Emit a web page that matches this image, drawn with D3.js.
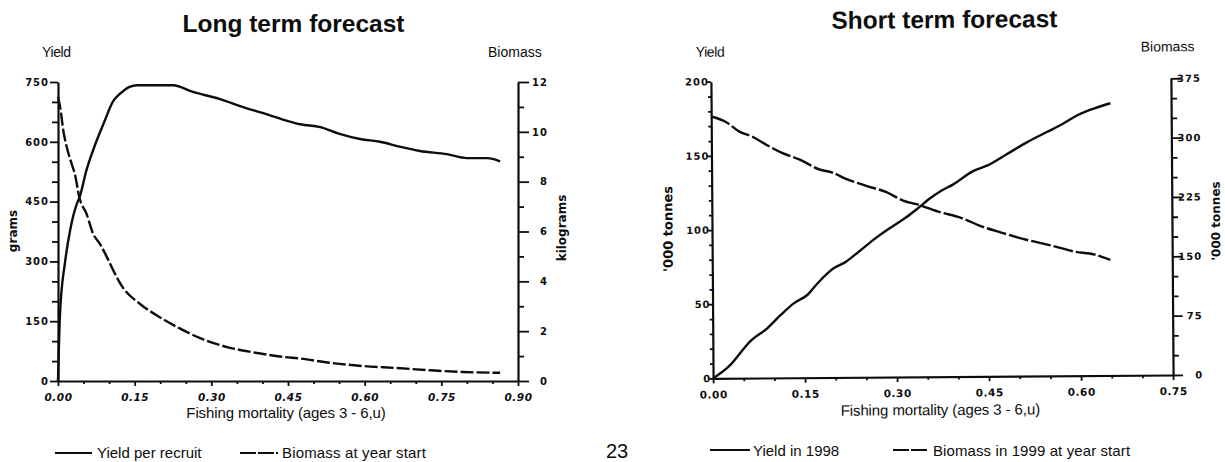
<!DOCTYPE html>
<html>
<head>
<meta charset="utf-8">
<script src="https://cdn.jsdelivr.net/npm/d3@7"></script>
<style>
  html, body { margin: 0; padding: 0; background: #fff; }
  svg { display: block; }
</style>
</head>
<body>
<svg id="chart" width="1225" height="462"></svg>
<script>
// ---- Long term forecast: yield per recruit and biomass vs fishing mortality ----
const longYieldF   = [0, 0.004, 0.014, 0.024, 0.037, 0.042, 0.056, 0.069, 0.089, 0.108, 0.121, 0.14, 0.155, 0.19, 0.225, 0.264, 0.317, 0.362, 0.409, 0.45, 0.474, 0.513, 0.551, 0.591, 0.63, 0.668, 0.708, 0.761, 0.80, 0.84, 0.865];
const longYield    = [0, 170, 300, 380, 445, 460, 530, 580, 645, 702, 720, 738, 742, 742, 742, 725, 707, 687, 669, 652, 644, 637, 620, 607, 600, 588, 577, 569, 559, 559, 551];
const longBiomassF = [0, 0.005, 0.010, 0.017, 0.027, 0.033, 0.042, 0.056, 0.069, 0.082, 0.095, 0.108, 0.118, 0.127, 0.160, 0.200, 0.239, 0.278, 0.331, 0.382, 0.44, 0.474, 0.532, 0.597, 0.663, 0.728, 0.793, 0.865];
const longBiomass  = [11.4, 10.9, 10.1, 9.4, 8.7, 8.3, 7.35, 6.7, 5.9, 5.5, 5.0, 4.45, 4.05, 3.75, 3.1, 2.55, 2.1, 1.72, 1.36, 1.15, 0.97, 0.9, 0.73, 0.6, 0.52, 0.43, 0.36, 0.33];

const longYieldTicks   = [0, 150, 300, 450, 600, 750];
const longBiomassTicks = [0, 2, 4, 6, 8, 10, 12];
const longFTicks       = [0, 0.15, 0.30, 0.45, 0.60, 0.75, 0.90];

// ---- Short term forecast: yield in 1998 and biomass in 1999 ----
const shortYieldF   = [0, 0.0245, 0.0626, 0.089, 0.111, 0.133, 0.155, 0.172, 0.199, 0.215, 0.237, 0.264, 0.291, 0.318, 0.334, 0.356, 0.373, 0.394, 0.427, 0.449, 0.482, 0.515, 0.547, 0.569, 0.597, 0.624, 0.651];
const shortYield    = [0, 7.5, 25.5, 33.5, 42.4, 50.3, 55.9, 63.8, 73.9, 77.2, 84, 92.9, 100.7, 108, 113, 120.3, 125, 129.6, 138.6, 142, 149.8, 157.7, 164.4, 168.9, 175.6, 180, 183.5];
const shortBiomassF = [0, 0.024, 0.045, 0.067, 0.089, 0.116, 0.143, 0.176, 0.197, 0.219, 0.252, 0.284, 0.312, 0.339, 0.372, 0.405, 0.438, 0.470, 0.514, 0.552, 0.590, 0.623, 0.649];
const shortBiomass  = [331, 324, 312, 305, 295, 284, 276, 263, 259, 251, 242, 234, 223, 217, 208, 201, 190, 182, 172, 165, 157, 153, 146];

const shortYieldTicks   = [0, 50, 100, 150, 200];
const shortBiomassTicks = [0, 75, 150, 225, 300, 375];
const shortFTicks       = [0, 0.15, 0.30, 0.45, 0.60, 0.75];

const INK = "#0d0d0d";
const SANS = "'Liberation Sans', Arial, sans-serif";
const TICKFONT = "'DejaVu Sans', sans-serif";

const svg = d3.select("#chart");

// values between majors, stepping by `step`
function minorValues(max, step, majors) {
  const out = [];
  for (let v = 0; v <= max + 1e-9; v += step) {
    const r = Math.round(v * 1000) / 1000;
    if (!majors.some(m => Math.abs(m - r) < 1e-6)) out.push(r);
  }
  return out;
}

function styleAxis(g, showDomain) {
  g.attr("font-family", null).attr("font-size", null);
  g.select(".domain").attr("stroke", showDomain ? INK : "none").attr("stroke-width", 2.2);
  g.selectAll(".tick line").attr("stroke", INK).attr("stroke-width", 1.8);
  g.selectAll(".tick text")
    .attr("fill", INK)
    .style("font-family", TICKFONT)
    .style("font-weight", "bold")
    .style("font-size", "10px");
}

function addText(parent, x, y, str, opts = {}) {
  return parent.append("text")
    .attr("x", x).attr("y", y)
    .attr("text-anchor", opts.anchor || "start")
    .attr("fill", INK)
    .style("font-family", opts.family || SANS)
    .style("font-size", (opts.size || 14) + "px")
    .style("font-weight", opts.weight || "normal")
    .style("letter-spacing", (opts.spacing || 0) + "px")
    .text(str);
}

function addRotated(parent, cx, cy, str, size) {
  return parent.append("text")
    .attr("transform", `translate(${cx},${cy}) rotate(-90)`)
    .attr("text-anchor", "middle")
    .attr("dominant-baseline", "central")
    .attr("fill", INK)
    .style("font-family", TICKFONT)
    .style("font-weight", "bold")
    .style("font-size", size + "px")
    .text(str);
}

function curve(parent, xs, fs, vs, ys, dash) {
  const line = d3.line().x(d => xs(d[0])).y(d => ys(d[1])).curve(d3.curveMonotoneX);
  parent.append("path")
    .datum(fs.map((f, i) => [f, vs[i]]))
    .attr("d", line)
    .attr("fill", "none")
    .attr("stroke", INK)
    .attr("stroke-width", 2.4)
    .attr("stroke-linejoin", "round")
    .attr("stroke-dasharray", dash || null);
}

// ================= Long term panel =================
{
  const g = svg.append("g");
  const x  = d3.scaleLinear().domain([0, 0.9]).range([58, 518]);
  const yY = d3.scaleLinear().domain([0, 750]).range([381, 82]);
  const yB = d3.scaleLinear().domain([0, 12]).range([381, 82]);

  // minor ticks
  g.append("g").attr("transform", "translate(58,0)")
    .call(d3.axisLeft(yY).tickValues(minorValues(750, 50, longYieldTicks)).tickSize(6).tickFormat(""))
    .call(a => styleAxis(a, false));
  g.append("g").attr("transform", "translate(518,0)")
    .call(d3.axisRight(yB).tickValues(minorValues(12, 1, longBiomassTicks)).tickSize(6).tickFormat(""))
    .call(a => styleAxis(a, false));
  g.append("g").attr("transform", "translate(0,381)")
    .call(d3.axisBottom(x).tickValues(minorValues(0.9, 0.05, longFTicks)).tickSize(3).tickFormat(""))
    .call(a => styleAxis(a, false));

  // major axes
  g.append("g").attr("transform", "translate(58,0)")
    .call(d3.axisLeft(yY).tickValues(longYieldTicks).tickSize(8).tickSizeOuter(0).tickPadding(1).tickFormat(d3.format("d")))
    .call(a => styleAxis(a, true))
    .call(a => a.selectAll(".tick text").style("letter-spacing", "1px"));
  g.append("g").attr("transform", "translate(518,0)")
    .call(d3.axisRight(yB).tickValues(longBiomassTicks).tickSize(11).tickSizeOuter(0).tickFormat(d3.format("d")))
    .call(a => styleAxis(a, true))
    .call(a => a.selectAll(".tick text").attr("text-anchor", "end").attr("x", 30).style("letter-spacing", "1px"));
  g.append("g").attr("transform", "translate(0,381)")
    .call(d3.axisBottom(x).tickValues(longFTicks).tickSize(5).tickSizeOuter(0).tickFormat(d3.format(".2f")))
    .call(a => styleAxis(a, true))
    .call(a => a.selectAll(".tick text").attr("y", 20).attr("dy", null)
      .style("font-style", "italic").style("font-size", "10.5px").style("letter-spacing", "0.5px"));

  curve(g, x, longYieldF, longYield, yY, null);
  curve(g, x, longBiomassF, longBiomass, yB, "13,3");

  addText(g, 293.5, 32, "Long term forecast", { anchor: "middle", size: 24.5, weight: "bold" });
  addText(g, 42, 57, "Yield", { size: 14, spacing: -0.4 });
  addText(g, 488, 57, "Biomass", { size: 14, spacing: 0 });
  addText(g, 286, 418, "Fishing mortality (ages 3 - 6,u)", { anchor: "middle", size: 15, spacing: -0.1 });
  addRotated(g, 12.5, 231, "grams", 12);
  addRotated(g, 562, 228, "kilograms", 12);
}

// ================= Short term panel =================
{
  const g = svg.append("g").attr("transform", "rotate(-0.42,942,228)");
  const x  = d3.scaleLinear().domain([0, 0.75]).range([712, 1172]);
  const yY = d3.scaleLinear().domain([0, 200]).range([376.7, 80]);
  const yB = d3.scaleLinear().domain([0, 375]).range([376.7, 80]);

  g.append("g").attr("transform", "translate(712,0)")
    .call(d3.axisLeft(yY).tickValues(minorValues(200, 10, shortYieldTicks)).tickSize(3).tickFormat(""))
    .call(a => styleAxis(a, false));
  g.append("g").attr("transform", "translate(1172,0)")
    .call(d3.axisRight(yB).tickValues(minorValues(375, 25, shortBiomassTicks)).tickSize(6).tickFormat(""))
    .call(a => styleAxis(a, false));
  g.append("g").attr("transform", "translate(0,376.7)")
    .call(d3.axisBottom(x).tickValues(minorValues(0.75, 0.05, shortFTicks)).tickSize(3).tickFormat(""))
    .call(a => styleAxis(a, false));

  g.append("g").attr("transform", "translate(712,0)")
    .call(d3.axisLeft(yY).tickValues(shortYieldTicks).tickSize(4).tickSizeOuter(0).tickFormat(d3.format("d")))
    .call(a => styleAxis(a, true))
    .call(a => a.selectAll(".tick text").attr("x", -2).style("letter-spacing", "1px"));
  g.append("g").attr("transform", "translate(1172,0)")
    .call(d3.axisRight(yB).tickValues(shortBiomassTicks).tickSize(10).tickSizeOuter(0).tickFormat(d3.format("d")))
    .call(a => styleAxis(a, true))
    .call(a => a.selectAll(".tick text").attr("text-anchor", "end").attr("x", 30).style("letter-spacing", "1px"));
  g.append("g").attr("transform", "translate(0,376.7)")
    .call(d3.axisBottom(x).tickValues(shortFTicks).tickSize(5).tickSizeOuter(0).tickFormat(d3.format(".2f")))
    .call(a => styleAxis(a, true))
    .call(a => a.selectAll(".tick text").attr("y", 20).attr("dy", null)
      .style("font-size", "10.5px").style("letter-spacing", "0.5px"));

  curve(g, x, shortYieldF, shortYield, yY, null);
  curve(g, x, shortBiomassF, shortBiomass, yB, "20,3");

  addText(g, 946, 28, "Short term forecast", { anchor: "middle", size: 24.5, weight: "bold" });
  addText(g, 697, 55, "Yield", { size: 14, spacing: -0.4 });
  addText(g, 1142, 53, "Biomass", { size: 14, spacing: 0 });
  addText(g, 939, 415, "Fishing mortality (ages 3 - 6,u)", { anchor: "middle", size: 15, spacing: -0.1 });
  addRotated(g, 668, 227, "'000 tonnes", 13);
  addRotated(g, 1216, 223, "'000 tonnes", 12);
}

// ================= Legends and page number =================
function legendLine(x1, x2, y, dash) {
  svg.append("line")
    .attr("x1", x1).attr("x2", x2).attr("y1", y).attr("y2", y)
    .attr("stroke", INK).attr("stroke-width", 2)
    .attr("stroke-dasharray", dash || null);
}
legendLine(55, 92, 453, null);
addText(svg, 97, 458, "Yield per recruit", { size: 15 });
legendLine(240, 278, 453, "16,2");
addText(svg, 282, 458, "Biomass at year start", { size: 15, spacing: 0.15 });

legendLine(710, 750, 450, null);
addText(svg, 753, 456, "Yield in 1998", { size: 15 });
legendLine(893, 928, 450, "16,2");
addText(svg, 933, 456, "Biomass in 1999 at year start", { size: 15, spacing: 0.1 });

addText(svg, 617, 458, "23", { anchor: "middle", size: 20 });
</script>
</body>
</html>
